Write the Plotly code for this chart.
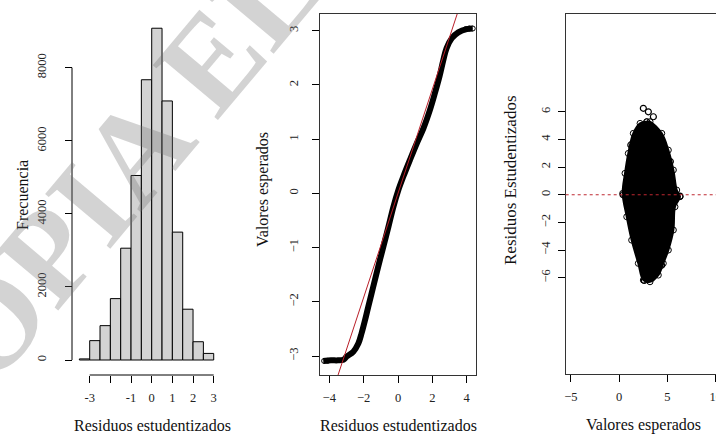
import plotly.graph_objects as go

W, H = 716, 438


def px(x):
    return x / W


def py(y):
    return 1 - y / H


# ---------------- data ----------------
# Panel 1: histogram of studentized residuals
hist_left_edges = [-3.5, -3.0, -2.5, -2.0, -1.5, -1.0, -0.5, 0.0, 0.5, 1.0, 1.5, 2.0, 2.5]
hist_counts = [30, 530, 940, 1680, 3060, 5050, 7670, 9080, 7090, 3500, 1390, 500, 180]
bin_width = 0.5
hist_xticks = [-3, -2, -1, 0, 1, 2, 3]
hist_xticktext = ["-3", "", "-1", "0", "1", "2", "3"]
hist_yticks = [0, 2000, 4000, 6000, 8000]

# Panel 2: QQ plot (residuals vs expected values)
qq_x = [-4.35, -3.90, -3.50, -3.18, -2.99, -2.60, -2.31, -2.12, -1.92, -1.73, -1.44, -1.15,
        -0.85, -0.56, -0.27, 0.02, 0.31, 0.70, 1.09, 1.48, 1.86, 2.15, 2.41, 2.64, 2.83,
        3.13, 3.51, 4.00, 4.35]
qq_y = [-3.09, -3.08, -3.08, -3.07, -3.01, -2.92, -2.77, -2.58, -2.34, -2.09, -1.72, -1.35,
        -0.98, -0.62, -0.25, 0.06, 0.31, 0.62, 0.92, 1.20, 1.54, 1.85, 2.15, 2.46, 2.68,
        2.86, 2.97, 3.03, 3.04]
qq_ext_x = [-4.30, -4.10, 3.95, 4.15, 4.35]
qq_ext_y = [-3.09, -3.09, 3.03, 3.04, 3.04]
qq_line_x = [-4.8, 4.8]
qq_line_y = [-4.61, 4.61]
qq_xticks = [-4, -2, 0, 2, 4]
qq_yticks = [-3, -2, -1, 0, 1, 2, 3]

# Panel 3: residuals vs fitted values (outline of the dense point cloud)
cloud_x = [2.85, 3.19, 4.41, 5.09, 5.61, 5.96, 6.30, 5.78, 5.61, 5.09, 4.57, 4.05, 3.19,
           2.50, 1.98, 1.29, 0.78, 0.36, 0.60, 0.94, 1.46, 2.16]
cloud_y = [5.28, 5.28, 4.44, 3.23, 1.79, 0.34, -0.14, -0.87, -2.55, -4.00, -4.96, -5.81,
           -6.29, -6.17, -4.96, -3.28, -1.59, 0.10, 1.55, 2.99, 4.44, 5.16]
cloud_out_x = [2.50, 3.02, 3.54, 2.90, 2.60, 4.40, 6.30, 0.40, 1.20, 5.30]
cloud_out_y = [6.25, 6.00, 5.64, -5.90, -6.20, -5.10, -0.10, 0.00, 3.60, 2.40]
res_xticks = [-5, 0, 5, 10]
res_yticks = [-6, -4, -2, 0, 2, 4, 6]

# ---------------- figure ----------------
FONT = "Liberation Serif, Times New Roman, serif"
tickfont = dict(family=FONT, size=12.5, color="#222")
titlefont = dict(family=FONT, size=16, color="#111")

fig = go.Figure()

hist_centers = [e + bin_width / 2 for e in hist_left_edges]
fig.add_trace(go.Bar(
    x=hist_centers, y=hist_counts, width=bin_width,
    marker=dict(color="#d3d3d3", line=dict(color="black", width=1)),
    xaxis="x", yaxis="y", showlegend=False,
))

fig.add_trace(go.Scatter(
    x=qq_x, y=qq_y, mode="lines", line=dict(color="black", width=6, shape="spline"),
    xaxis="x2", yaxis="y2", showlegend=False,
))
fig.add_trace(go.Scatter(
    x=qq_ext_x, y=qq_ext_y, mode="markers",
    marker=dict(symbol="circle-open", size=5, color="black", line=dict(width=1)),
    xaxis="x2", yaxis="y2", showlegend=False,
))
fig.add_trace(go.Scatter(
    x=qq_line_x, y=qq_line_y, mode="lines", line=dict(color="rgb(185,30,40)", width=1),
    xaxis="x2", yaxis="y2", showlegend=False,
))

fig.add_trace(go.Scatter(
    x=cloud_x + [cloud_x[0]], y=cloud_y + [cloud_y[0]], mode="lines+markers",
    fill="toself", fillcolor="black", line=dict(color="black", width=2, shape="spline"),
    marker=dict(symbol="circle-open", size=6, color="black"),
    xaxis="x3", yaxis="y3", showlegend=False,
))
fig.add_trace(go.Scatter(
    x=cloud_out_x, y=cloud_out_y, mode="markers",
    marker=dict(symbol="circle-open", size=6, color="black", line=dict(width=1.2)),
    xaxis="x3", yaxis="y3", showlegend=False,
))

common = dict(showgrid=False, zeroline=False, ticks="outside", ticklen=7,
              tickcolor="black", tickwidth=1, tickfont=tickfont, automargin=False,
              ticklabeloverflow="allow")


def title(text, x, y, angle=0, font=titlefont):
    return dict(text=text, x=px(x), y=py(y), xref="paper", yref="paper",
                xanchor="center", yanchor="middle", textangle=angle,
                showarrow=False, font=font)


fig.update_layout(
    template="none",
    width=W, height=H,
    margin=dict(l=0, r=0, t=0, b=0, autoexpand=False),
    paper_bgcolor="white", plot_bgcolor="white",
    xaxis=dict(domain=[px(75), px(225)], range=[-3.711, 3.546], anchor="y",
               tickvals=hist_xticks, ticktext=hist_xticktext, showline=False,
               ticklabelstandoff=4, **common),
    yaxis=dict(domain=[py(375), py(20)], range=[-410.5, 9305], anchor="free",
               position=px(72), tickvals=hist_yticks, tickangle=-90, showline=False,
               ticklabelstandoff=14, **common),
    xaxis2=dict(domain=[px(320), px(476)], range=[-4.54, 4.54], anchor="y2",
                tickvals=qq_xticks, showline=True, mirror=True, linecolor="#333",
                linewidth=1, ticklabelstandoff=4, **common),
    yaxis2=dict(domain=[py(375), py(14)], range=[-3.35, 3.308], anchor="x2",
                tickvals=qq_yticks, tickangle=-90, showline=True, mirror=True,
                linecolor="#333", linewidth=1, ticklabelstandoff=9, **common),
    xaxis3=dict(domain=[px(565.7), 1.0], range=[-5.546, 10.03], anchor="y3",
                tickvals=res_xticks, showline=True, mirror=True, linecolor="#333",
                linewidth=1, ticklabelstandoff=4, **common),
    yaxis3=dict(domain=[py(374), py(14)], range=[-12.96, 13.07], anchor="x3",
                tickvals=res_yticks, tickangle=-90, showline=True, mirror=False,
                linecolor="#333", linewidth=1, ticklabelstandoff=3, **common),
    shapes=[
        # R-style axis lines for the histogram
        dict(type="line", xref="x", yref="paper", x0=hist_xticks[0], x1=hist_xticks[-1],
             y0=py(375), y1=py(375), line=dict(color="black", width=1)),
        dict(type="line", xref="paper", yref="y", x0=px(72), x1=px(72),
             y0=hist_yticks[0], y1=hist_yticks[-1], line=dict(color="black", width=1)),
        # horizontal reference line at 0 in the residual plot
        dict(type="line", xref="x3 domain", yref="y3", x0=0, x1=1, y0=0, y1=0,
             line=dict(color="rgb(190,40,50)", width=1, dash="dot")),
    ],
    annotations=[
        title("Frecuencia", 22, 195, -90),
        title("Residuos estudentizados", 152, 425),
        title("Valores esperados", 263, 190, -90),
        title("Residuos estudentizados", 398, 425),
        title("Residuos Estudentizados", 510, 180, -90,
              dict(family=FONT, size=17, color="#111")),
        title("Valores esperados", 643, 425),
        # watermark
        title("<b>COPIA ELI</b>", 112, 178, -50,
              dict(family=FONT, size=130, color="rgba(110,110,110,0.30)")),
    ],
)

fig.write_html("out.html", config={"displayModeBar": False},
               post_script="document.body.style.margin='0';")
